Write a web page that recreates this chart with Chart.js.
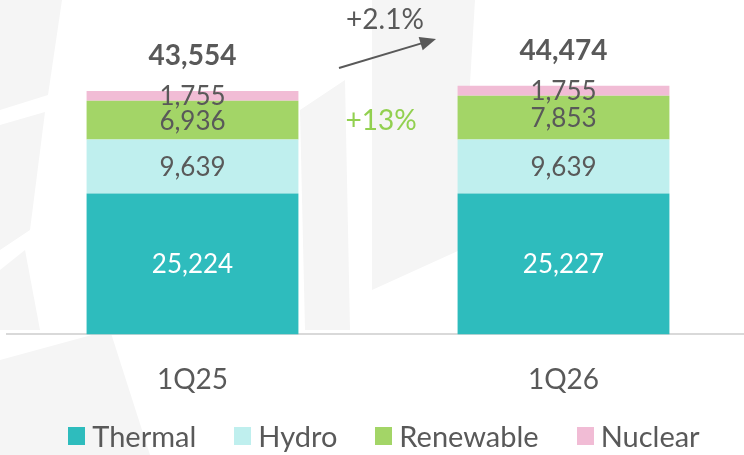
<!DOCTYPE html>
<html>
<head>
<meta charset="utf-8">
<script src="https://cdn.jsdelivr.net/npm/chart.js@4.4.1/dist/chart.umd.min.js"></script>
<style>
  html, body { margin: 0; padding: 0; background: #fff; overflow: hidden; }
  #wrap { width: 749px; height: 455px; position: relative; }
  #legend {
    position: absolute; left: 12px; top: 418px; width: 744px;
    display: flex; justify-content: center; gap: 38px;
    font-family: Lato, 'Open Sans', sans-serif; font-size: 29px; color: #595959;
  }
  #legend span.item { display: flex; align-items: center; }
  #legend i { display: inline-block; width: 17px; height: 18px; margin-right: 7px; }
</style>
</head>
<body>
<div id="wrap"><canvas id="genChart"></canvas><div id="legend"></div></div>
<script>
/* ---------- DATA ---------- */
const QUARTERS = ["1Q25", "1Q26"];
const THERMAL = [25224, 25227];
const HYDRO = [9639, 9639];
const RENEWABLE = [6936, 7853];
const NUCLEAR = [1755, 1755];
const TOTALS = [43554, 44474];
const TOTAL_GROWTH = "+2.1%";
const RENEWABLE_GROWTH = "+13%";

const TEXT_GREY = "#595959";
const FONT = "Lato, 'Open Sans', sans-serif";

const fmt = v => v.toLocaleString("en-US");

/* ---------- FAINT WATERMARK BACKGROUND ---------- */
const watermarkPlugin = {
  id: "watermark",
  beforeDraw(chart) {
    const { ctx } = chart;
    const tiles = [
      [[0, 0], [62, 0], [48, 95], [0, 110]],
      [[0, 125], [45, 112], [30, 230], [0, 250]],
      [[0, 270], [25, 250], [40, 330], [0, 330]],
      [[300, 110], [345, 80], [350, 330], [305, 330]],
      [[372, 0], [475, 0], [460, 250], [372, 290]],
      [[0, 360], [110, 330], [150, 455], [0, 455]]
    ];
    ctx.save();
    ctx.fillStyle = "#f5f5f5";
    tiles.forEach(poly => {
      ctx.beginPath();
      poly.forEach(([px, py], k) => (k ? ctx.lineTo(px, py) : ctx.moveTo(px, py)));
      ctx.closePath();
      ctx.fill();
    });
    ctx.restore();
  }
};

/* ---------- LABEL PLUGIN ---------- */
const labelPlugin = {
  id: "labels",
  afterDatasetsDraw(chart) {
    const { ctx, scales } = chart;
    const x = scales.x, y = scales.y;
    ctx.save();
    ctx.textAlign = "center";
    ctx.textBaseline = "middle";

    // segment values
    ctx.font = `26px ${FONT}`;
    chart.data.datasets.forEach((ds, i) => {
      const meta = chart.getDatasetMeta(i);
      meta.data.forEach((bar, j) => {
        ctx.fillStyle = i === 0 ? "#ffffff" : TEXT_GREY;
        const mid = (bar.y + bar.base) / 2;
        ctx.fillText(fmt(ds.data[j]), bar.x, mid + 1);
      });
    });

    // totals
    ctx.font = `bold 28px ${FONT}`;
    ctx.fillStyle = TEXT_GREY;
    TOTALS.forEach((t, j) => {
      ctx.fillText(fmt(t), x.getPixelForValue(j), y.getPixelForValue(t) - 35);
    });

    // growth annotations between the bars
    const midX = (x.getPixelForValue(0) + x.getPixelForValue(1)) / 2;
    ctx.font = `28px ${FONT}`;
    ctx.fillStyle = "#92d050";
    const renMid = y.getPixelForValue(THERMAL[0] + HYDRO[0] + RENEWABLE[0] / 2);
    ctx.fillText(RENEWABLE_GROWTH, midX + 3, renMid + 1);

    ctx.fillStyle = TEXT_GREY;
    ctx.fillText(TOTAL_GROWTH, midX + 7, 20);

    // arrow
    const x0 = midX - 39, y0 = 68, x1 = midX + 58, y1 = 39;
    const ang = Math.atan2(y1 - y0, x1 - x0);
    ctx.strokeStyle = TEXT_GREY;
    ctx.lineWidth = 2;
    ctx.beginPath();
    ctx.moveTo(x0, y0);
    ctx.lineTo(x1 - 10 * Math.cos(ang), y1 - 10 * Math.sin(ang));
    ctx.stroke();
    ctx.beginPath();
    ctx.moveTo(x1, y1);
    ctx.lineTo(x1 - 16 * Math.cos(ang) + 7 * Math.sin(ang), y1 - 16 * Math.sin(ang) - 7 * Math.cos(ang));
    ctx.lineTo(x1 - 16 * Math.cos(ang) - 7 * Math.sin(ang), y1 - 16 * Math.sin(ang) + 7 * Math.cos(ang));
    ctx.closePath();
    ctx.fill();
    ctx.restore();
  }
};

/* ---------- CHART ---------- */
const ctx = document.getElementById("genChart").getContext("2d");
const barOpts = { barPercentage: 0.571, categoryPercentage: 1, borderWidth: 0 };

const chart = new Chart(ctx, {
  type: "bar",
  data: {
    labels: QUARTERS,
    datasets: [
      { label: "Thermal", data: THERMAL, backgroundColor: "#2ebcbd", ...barOpts },
      { label: "Hydro", data: HYDRO, backgroundColor: "#bfefee", ...barOpts },
      { label: "Renewable", data: RENEWABLE, backgroundColor: "#a3d567", ...barOpts },
      { label: "Nuclear", data: NUCLEAR, backgroundColor: "#f1bcd5", ...barOpts }
    ]
  },
  options: {
    responsive: true,
    maintainAspectRatio: false,
    animation: false,
    layout: { padding: { top: 27, left: 7, right: 0, bottom: 37 } },
    plugins: {
      tooltip: { enabled: false },
      legend: { display: false }
    },
    scales: {
      x: {
        stacked: true,
        grid: { display: false },
        border: { display: true, color: "#d9d9d9", width: 2 },
        ticks: { color: TEXT_GREY, font: { family: FONT, size: 28 }, padding: 21 }
      },
      y: {
        stacked: true,
        display: false,
        min: 0,
        max: 55000
      }
    }
  },
  plugins: [watermarkPlugin, labelPlugin]
});

/* ---------- LEGEND ---------- */
const legendEl = document.getElementById("legend");
chart.data.datasets.forEach(ds => {
  const item = document.createElement("span");
  item.className = "item";
  item.innerHTML = `<i style="background:${ds.backgroundColor}"></i>${ds.label}`;
  legendEl.appendChild(item);
});
</script>
</body>
</html>
